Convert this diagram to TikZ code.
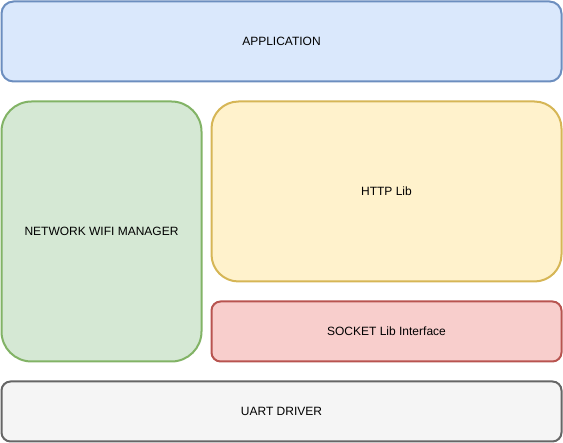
\documentclass[tikz,border=0pt]{standalone}
\usepackage{fontspec}
\setmainfont{Liberation Sans}
\usepackage{xcolor}
\usepackage{tikz}
\definecolor{appfill}{HTML}{DAE8FC}
\definecolor{appline}{HTML}{6C8EBF}
\definecolor{wififill}{HTML}{D5E8D4}
\definecolor{wifiline}{HTML}{82B366}
\definecolor{httpfill}{HTML}{FFF2CC}
\definecolor{httpline}{HTML}{D6B656}
\definecolor{sockfill}{HTML}{F8CECC}
\definecolor{sockline}{HTML}{B85450}
\definecolor{uartfill}{HTML}{F5F5F5}
\definecolor{uartline}{HTML}{666666}
\tikzset{
    layer/.style = {rectangle, line width=2pt, align=center, inner sep=0pt, outer sep=0pt, font=\fontsize{12}{14}\selectfont},
    applayer/.style = {layer, draw=appline, fill=appfill, rounded corners=12pt},
    wifilayer/.style = {layer, draw=wifiline, fill=wififill, rounded corners=30pt},
    httplayer/.style = {layer, draw=httpline, fill=httpfill, rounded corners=27pt},
    socklayer/.style = {layer, draw=sockline, fill=sockfill, rounded corners=9pt},
    uartlayer/.style = {layer, draw=uartline, fill=uartfill, rounded corners=9pt},
}
\begin{document}
\begin{tikzpicture}[x=1pt,y=-1pt]
\useasboundingbox (0,0) rectangle (563,443);
\node[applayer, minimum width=560pt, minimum height=80pt] at (281.5,41.5) (app) {APPLICATION};
\node[wifilayer, minimum width=200pt, minimum height=260pt] at (101.5,231.5) (wifi) {NETWORK WIFI MANAGER};
\node[httplayer, minimum width=350pt, minimum height=180pt] at (386.5,191.5) (http) {HTTP Lib};
\node[socklayer, minimum width=350pt, minimum height=60pt] at (386.5,331.5) (sock) {SOCKET Lib Interface};
\node[uartlayer, minimum width=560pt, minimum height=60pt] at (281.5,411.5) (uart) {UART DRIVER};
\end{tikzpicture}
\end{document}
